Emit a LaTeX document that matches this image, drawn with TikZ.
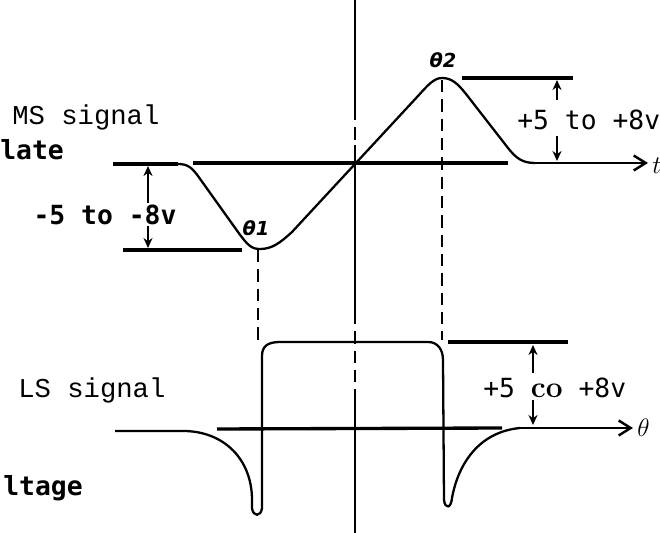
\documentclass[tikz,border=0pt]{standalone}
\usepackage{fontspec}
\setmonofont{Liberation Mono}
\newfontfamily\gothic{DejaVu Sans Mono}
\newfontfamily\dvsans{DejaVu Sans}
\usepackage{tikz}
\usetikzlibrary{arrows.meta}

\begin{document}
\begin{tikzpicture}[x=0.02cm, y=-0.02cm,
    wave/.style={line width=1.3pt, line join=round},
    level/.style={line width=1.9pt},
    guide/.style={line width=1.3pt, dash pattern=on 7pt off 4pt},
    dim/.style={line width=1.1pt, -{Stealth[length=2mm,width=1.8mm]}},
    axis/.style={line width=1.4pt, -{Straight Barb[length=2.4mm,width=3mm]}},
    sig/.style={font=\ttfamily\fontsize{15.5}{17}\selectfont, anchor=west, inner sep=0pt},
    volt/.style={font=\gothic\bfseries\fontsize{15}{17}\selectfont, inner sep=0pt},
    ang/.style={font=\dvsans\bfseries\itshape\fontsize{11}{12}\selectfont, inner sep=0pt}]
  \useasboundingbox (0,0) rectangle (660,533);

  % centre line
  \draw[wave] (355,0) -- (355,108);
  \draw[guide] (355,108) -- (355,145);
  \draw[wave] (355,145) -- (355,312);
  \draw[guide] (355,312) -- (355,400);
  \draw[wave] (355,400) -- (355,533);

  % MS signal
  \node[sig] (mslabel) at (12,117) {MS signal};
  \node[volt, anchor=west] (mstitle) at (0,150) {late};
  \draw[level] (113,164) -- (178,164);
  \draw[level] (193,163) -- (508,163);
  \draw[level] (123,250) -- (242,250);
  \draw[level] (462,78) -- (573,78);
  \draw[wave] (178,164) .. controls (188,164) and (192,168) .. (198,176)
    -- (238,232) .. controls (248,246) and (252,249) .. (260,249)
    .. controls (272,249) and (280,243) .. (292,232)
    -- (418,96) .. controls (428,85) and (434,78) .. (442,78)
    .. controls (452,78) and (458,84) .. (466,94)
    -- (508,148) .. controls (516,158) and (522,163) .. (535,163);
  \draw[axis] (535,163) -- (648,163);
  \node[anchor=west, inner sep=0pt] (taxis) at (652,166) {\Large$t$};
  \node[ang] (th1) at (256,228) {θ1};
  \node[ang] (th2) at (443,60) {θ2};
  \draw[guide] (258,250) -- (258,340);
  \draw[guide] (442,80) -- (442,340);

  \node[volt] (neglabel) at (105,215) {-5 to -8v};
  \coordinate (nlo) at (148,203);
  \coordinate (nhi) at (148,166);
  \coordinate (nlo2) at (148,226);
  \coordinate (nbot) at (148,248);
  \draw[dim] (nlo) -- (nhi);
  \draw[dim] (nlo2) -- (nbot);

  \node[font=\gothic\fontsize{15}{17}\selectfont, anchor=west, inner sep=0pt] (poslabel) at (517,120) {+5 to +8v};
  \draw[dim] (557,100) -- (557,80);
  \draw[dim] (557,136) -- (557,161);

  % LS signal
  \node[sig] (lslabel) at (18,390) {LS signal};
  \node[volt, anchor=west] (lstitle) at (3,488) {ltage};
  \draw[level] (217,429) -- (502,428);
  \draw[level] (448,342) -- (568,342);
  \draw[wave] (115,431) -- (185,431) .. controls (225,432) and (252,460) .. (252,500)
    -- (252,508) .. controls (253,517) and (261,517) .. (262,508)
    -- (262,356) .. controls (262,346) and (268,342) .. (280,342)
    -- (428,342) .. controls (438,342) and (443,350) .. (443,360)
    -- (444,500) .. controls (445,509) and (451,509) .. (452,498)
    .. controls (458,465) and (478,432) .. (520,428);
  \draw[axis] (520,428) -- (633,428);
  \node[anchor=west, inner sep=0pt] (thaxis) at (637,428) {\Large$\theta$};

  \node[font=\gothic\fontsize{15}{17}\selectfont, anchor=west, inner sep=0pt] (lsvolt) at (483,388)
    {+5 {\rmfamily\bfseries\fontsize{17}{18}\selectfont co} +8v};
  \draw[dim] (533,373) -- (533,345);
  \draw[dim] (533,400) -- (533,425);
\end{tikzpicture}
\end{document}
